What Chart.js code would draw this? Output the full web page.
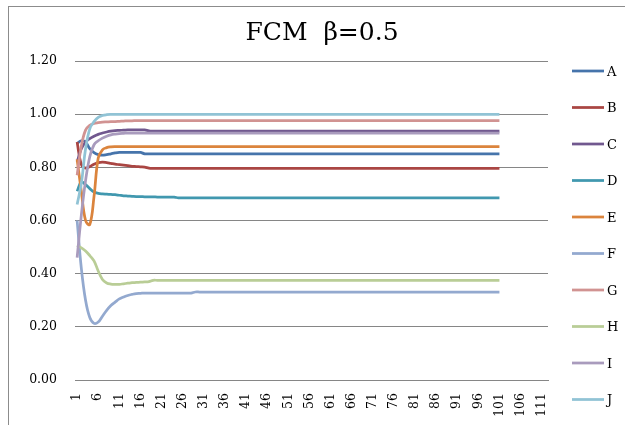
<!DOCTYPE html>
<html>
<head>
<meta charset="utf-8">
<script src="https://cdn.jsdelivr.net/npm/chart.js@4/dist/chart.umd.min.js"></script>
<style>
html,body{margin:0;padding:0;background:#fff;}
#c{display:block;}
</style>
</head>
<body>
<canvas id="c" width="625" height="425"></canvas>
<script>
const titleText = "FCM\u00a0\u00a0\u03b2=0.5";

const categories = [
1,2,3,4,5,6,7,8,9,10,11,12,13,14,15,16,17,18,19,20,
21,22,23,24,25,26,27,28,29,30,31,32,33,34,35,36,37,38,39,40,
41,42,43,44,45,46,47,48,49,50,51,52,53,54,55,56,57,58,59,60,
61,62,63,64,65,66,67,68,69,70,71,72,73,74,75,76,77,78,79,80,
81,82,83,84,85,86,87,88,89,90,91,92,93,94,95,96,97,98,99,100,
101,102,103,104,105,106,107,108,109,110,111,112];

const seriesNames = ["A","B","C","D","E","F","G","H","I","J"];

const seriesA = [
0.89,0.9,0.895,0.87,0.855,0.848,0.846,0.848,0.851,0.854,
0.856,0.856,0.856,0.856,0.856,0.856,0.851,0.851,0.851,0.851,
0.851,0.851,0.851,0.851,0.851,0.851,0.851,0.851,0.851,0.851,
0.851,0.851,0.851,0.851,0.851,0.851,0.851,0.851,0.851,0.851,
0.851,0.851,0.851,0.851,0.851,0.851,0.851,0.851,0.851,0.851,
0.851,0.851,0.851,0.851,0.851,0.851,0.851,0.851,0.851,0.851,
0.851,0.851,0.851,0.851,0.851,0.851,0.851,0.851,0.851,0.851,
0.851,0.851,0.851,0.851,0.851,0.851,0.851,0.851,0.851,0.851,
0.851,0.851,0.851,0.851,0.851,0.851,0.851,0.851,0.851,0.851,
0.851,0.851,0.851,0.851,0.851,0.851,0.851,0.851,0.851,0.851,
0.851];

const seriesB = [
0.895,0.81,0.797,0.803,0.812,0.818,0.82,0.818,0.815,0.812,
0.81,0.808,0.806,0.804,0.803,0.802,0.801,0.797,0.796,0.796,
0.796,0.796,0.796,0.796,0.796,0.796,0.796,0.796,0.796,0.796,
0.796,0.796,0.796,0.796,0.796,0.796,0.796,0.796,0.796,0.796,
0.796,0.796,0.796,0.796,0.796,0.796,0.796,0.796,0.796,0.796,
0.796,0.796,0.796,0.796,0.796,0.796,0.796,0.796,0.796,0.796,
0.796,0.796,0.796,0.796,0.796,0.796,0.796,0.796,0.796,0.796,
0.796,0.796,0.796,0.796,0.796,0.796,0.796,0.796,0.796,0.796,
0.796,0.796,0.796,0.796,0.796,0.796,0.796,0.796,0.796,0.796,
0.796,0.796,0.796,0.796,0.796,0.796,0.796,0.796,0.796,0.796,
0.796];

const seriesC = [
0.82,0.87,0.895,0.908,0.917,0.924,0.929,0.933,0.936,0.938,
0.939,0.94,0.941,0.941,0.941,0.941,0.941,0.937,0.936,0.936,
0.936,0.936,0.936,0.936,0.936,0.936,0.936,0.936,0.936,0.936,
0.936,0.936,0.936,0.936,0.936,0.936,0.936,0.936,0.936,0.936,
0.936,0.936,0.936,0.936,0.936,0.936,0.936,0.936,0.936,0.936,
0.936,0.936,0.936,0.936,0.936,0.936,0.936,0.936,0.936,0.936,
0.936,0.936,0.936,0.936,0.936,0.936,0.936,0.936,0.936,0.936,
0.936,0.936,0.936,0.936,0.936,0.936,0.936,0.936,0.936,0.936,
0.936,0.936,0.936,0.936,0.936,0.936,0.936,0.936,0.936,0.936,
0.936,0.936,0.936,0.936,0.936,0.936,0.936,0.936,0.936,0.936,
0.936];

const seriesD = [
0.71,0.745,0.735,0.72,0.707,0.702,0.7,0.699,0.698,0.697,
0.695,0.693,0.692,0.691,0.69,0.69,0.689,0.689,0.689,0.688,
0.688,0.688,0.688,0.688,0.685,0.685,0.685,0.685,0.685,0.685,
0.685,0.685,0.685,0.685,0.685,0.685,0.685,0.685,0.685,0.685,
0.685,0.685,0.685,0.685,0.685,0.685,0.685,0.685,0.685,0.685,
0.685,0.685,0.685,0.685,0.685,0.685,0.685,0.685,0.685,0.685,
0.685,0.685,0.685,0.685,0.685,0.685,0.685,0.685,0.685,0.685,
0.685,0.685,0.685,0.685,0.685,0.685,0.685,0.685,0.685,0.685,
0.685,0.685,0.685,0.685,0.685,0.685,0.685,0.685,0.685,0.685,
0.685,0.685,0.685,0.685,0.685,0.685,0.685,0.685,0.685,0.685,
0.685];

const seriesE = [
0.83,0.71,0.6,0.585,0.69,0.835,0.866,0.874,0.877,0.878,
0.878,0.878,0.878,0.878,0.878,0.878,0.878,0.878,0.878,0.878,
0.878,0.878,0.878,0.878,0.878,0.878,0.878,0.878,0.878,0.878,
0.878,0.878,0.878,0.878,0.878,0.878,0.878,0.878,0.878,0.878,
0.878,0.878,0.878,0.878,0.878,0.878,0.878,0.878,0.878,0.878,
0.878,0.878,0.878,0.878,0.878,0.878,0.878,0.878,0.878,0.878,
0.878,0.878,0.878,0.878,0.878,0.878,0.878,0.878,0.878,0.878,
0.878,0.878,0.878,0.878,0.878,0.878,0.878,0.878,0.878,0.878,
0.878,0.878,0.878,0.878,0.878,0.878,0.878,0.878,0.878,0.878,
0.878,0.878,0.878,0.878,0.878,0.878,0.878,0.878,0.878,0.878,
0.878];

const seriesF = [
0.6,0.42,0.3,0.235,0.213,0.218,0.24,0.262,0.28,0.293,
0.305,0.312,0.318,0.322,0.325,0.326,0.327,0.327,0.327,0.327,
0.327,0.327,0.327,0.327,0.327,0.327,0.327,0.327,0.331,0.331,
0.331,0.331,0.331,0.331,0.331,0.331,0.331,0.331,0.331,0.331,
0.331,0.331,0.331,0.331,0.331,0.331,0.331,0.331,0.331,0.331,
0.331,0.331,0.331,0.331,0.331,0.331,0.331,0.331,0.331,0.331,
0.331,0.331,0.331,0.331,0.331,0.331,0.331,0.331,0.331,0.331,
0.331,0.331,0.331,0.331,0.331,0.331,0.331,0.331,0.331,0.331,
0.331,0.331,0.331,0.331,0.331,0.331,0.331,0.331,0.331,0.331,
0.331,0.331,0.331,0.331,0.331,0.331,0.331,0.331,0.331,0.331,
0.331];

const seriesG = [
0.77,0.88,0.94,0.958,0.965,0.968,0.97,0.971,0.972,0.972,
0.973,0.974,0.975,0.975,0.976,0.976,0.976,0.976,0.976,0.976,
0.976,0.976,0.976,0.976,0.976,0.976,0.976,0.976,0.976,0.976,
0.976,0.976,0.976,0.976,0.976,0.976,0.976,0.976,0.976,0.976,
0.976,0.976,0.976,0.976,0.976,0.976,0.976,0.976,0.976,0.976,
0.976,0.976,0.976,0.976,0.976,0.976,0.976,0.976,0.976,0.976,
0.976,0.976,0.976,0.976,0.976,0.976,0.976,0.976,0.976,0.976,
0.976,0.976,0.976,0.976,0.976,0.976,0.976,0.976,0.976,0.976,
0.976,0.976,0.976,0.976,0.976,0.976,0.976,0.976,0.976,0.976,
0.976,0.976,0.976,0.976,0.976,0.976,0.976,0.976,0.976,0.976,
0.976];

const seriesH = [
0.507,0.497,0.485,0.468,0.448,0.41,0.378,0.365,0.361,0.36,
0.36,0.362,0.364,0.366,0.367,0.368,0.369,0.37,0.375,0.375,
0.375,0.375,0.375,0.375,0.375,0.375,0.375,0.375,0.375,0.375,
0.375,0.375,0.375,0.375,0.375,0.375,0.375,0.375,0.375,0.375,
0.375,0.375,0.375,0.375,0.375,0.375,0.375,0.375,0.375,0.375,
0.375,0.375,0.375,0.375,0.375,0.375,0.375,0.375,0.375,0.375,
0.375,0.375,0.375,0.375,0.375,0.375,0.375,0.375,0.375,0.375,
0.375,0.375,0.375,0.375,0.375,0.375,0.375,0.375,0.375,0.375,
0.375,0.375,0.375,0.375,0.375,0.375,0.375,0.375,0.375,0.375,
0.375,0.375,0.375,0.375,0.375,0.375,0.375,0.375,0.375,0.375,
0.375];

const seriesI = [
0.46,0.62,0.75,0.84,0.885,0.9,0.91,0.917,0.922,0.925,
0.927,0.928,0.929,0.929,0.929,0.929,0.929,0.929,0.929,0.929,
0.929,0.929,0.929,0.929,0.929,0.929,0.929,0.929,0.929,0.929,
0.929,0.929,0.929,0.929,0.929,0.929,0.929,0.929,0.929,0.929,
0.929,0.929,0.929,0.929,0.929,0.929,0.929,0.929,0.929,0.929,
0.929,0.929,0.929,0.929,0.929,0.929,0.929,0.929,0.929,0.929,
0.929,0.929,0.929,0.929,0.929,0.929,0.929,0.929,0.929,0.929,
0.929,0.929,0.929,0.929,0.929,0.929,0.929,0.929,0.929,0.929,
0.929,0.929,0.929,0.929,0.929,0.929,0.929,0.929,0.929,0.929,
0.929,0.929,0.929,0.929,0.929,0.929,0.929,0.929,0.929,0.929,
0.929];

const seriesJ = [
0.66,0.74,0.87,0.945,0.972,0.988,0.995,0.998,0.999,0.999,
0.999,0.999,0.999,0.999,0.999,0.999,0.999,0.999,0.999,0.999,
0.999,0.999,0.999,0.999,0.999,0.999,0.999,0.999,0.999,0.999,
0.999,0.999,0.999,0.999,0.999,0.999,0.999,0.999,0.999,0.999,
0.999,0.999,0.999,0.999,0.999,0.999,0.999,0.999,0.999,0.999,
0.999,0.999,0.999,0.999,0.999,0.999,0.999,0.999,0.999,0.999,
0.999,0.999,0.999,0.999,0.999,0.999,0.999,0.999,0.999,0.999,
0.999,0.999,0.999,0.999,0.999,0.999,0.999,0.999,0.999,0.999,
0.999,0.999,0.999,0.999,0.999,0.999,0.999,0.999,0.999,0.999,
0.999,0.999,0.999,0.999,0.999,0.999,0.999,0.999,0.999,0.999,
0.999];

const seriesColors = ["#4674AB","#AA4643","#71588F","#4198AF","#DB843D",
                      "#93A9CF","#D19392","#B9CD96","#A99BBD","#91C3D5"];

const allSeries = [seriesA,seriesB,seriesC,seriesD,seriesE,seriesF,seriesG,seriesH,seriesI,seriesJ];

const serif = "'DejaVu Serif', 'Liberation Serif', serif";

const datasets = allSeries.map((vals, i) => ({
  label: seriesNames[i],
  data: vals,
  borderColor: seriesColors[i],
  backgroundColor: seriesColors[i],
  borderWidth: 2.75,
  pointRadius: 0,
  pointHoverRadius: 0,
  tension: 0.4,
  fill: false,
  order: allSeries.length - i
}));

const deco = {
  id: 'deco',
  beforeDraw(chart) {
    const c = chart.ctx;
    c.save();
    c.fillStyle = '#ffffff';
    c.fillRect(0, 0, chart.width, chart.height);
    c.strokeStyle = '#8c8c8c';
    c.lineWidth = 1;
    c.strokeRect(8.5, 6.5, 700, 500);
    c.restore();
  },
  afterDraw(chart) {
    const c = chart.ctx;
    c.save();
    c.fillStyle = '#000';
    c.font = "25px " + serif;
    c.textAlign = 'center';
    c.textBaseline = 'alphabetic';
    c.fillText(titleText, 322, 39.5);
    c.font = "13px " + serif;
    c.textAlign = 'left';
    chart.data.datasets.forEach((ds, i) => {
      const y = 71 + i * 36.5;
      c.strokeStyle = ds.borderColor;
      c.lineWidth = 2.75;
      c.beginPath();
      c.moveTo(572, y);
      c.lineTo(604, y);
      c.stroke();
      c.fillText(ds.label, 607, y + 4.7);
    });
    c.restore();
  }
};

new Chart(document.getElementById('c'), {
  type: 'line',
  data: { labels: categories, datasets: datasets },
  options: {
    responsive: false,
    animation: false,
    devicePixelRatio: 1,
    layout: { padding: { top: 61, right: 77, bottom: 0, left: 0 } },
    plugins: {
      legend: { display: false },
      title: { display: false },
      tooltip: { enabled: false }
    },
    scales: {
      x: {
        type: 'category',
        offset: true,
        grid: { display: false, drawTicks: false },
        border: { display: true, color: '#868686', width: 1 },
        ticks: {
          autoSkip: false,
          maxRotation: 90,
          minRotation: 90,
          padding: 13,
          color: '#000',
          font: { family: serif, size: 12.5 },
          callback: function(val, idx) { return idx % 5 === 0 ? String(this.getLabelForValue(val)) : ''; }
        },
        afterFit(scale) { scale.height = 45; }
      },
      y: {
        min: 0,
        max: 1.2,
        grid: { color: '#868686', lineWidth: 1, drawTicks: false },
        border: { display: false },
        ticks: {
          stepSize: 0.2,
          padding: 18,
          color: '#000',
          font: { family: serif, size: 12.5 },
          callback: v => v.toFixed(2)
        },
        afterFit(scale) { scale.width = 75; }
      }
    }
  },
  plugins: [deco]
});
</script>
</body>
</html>
